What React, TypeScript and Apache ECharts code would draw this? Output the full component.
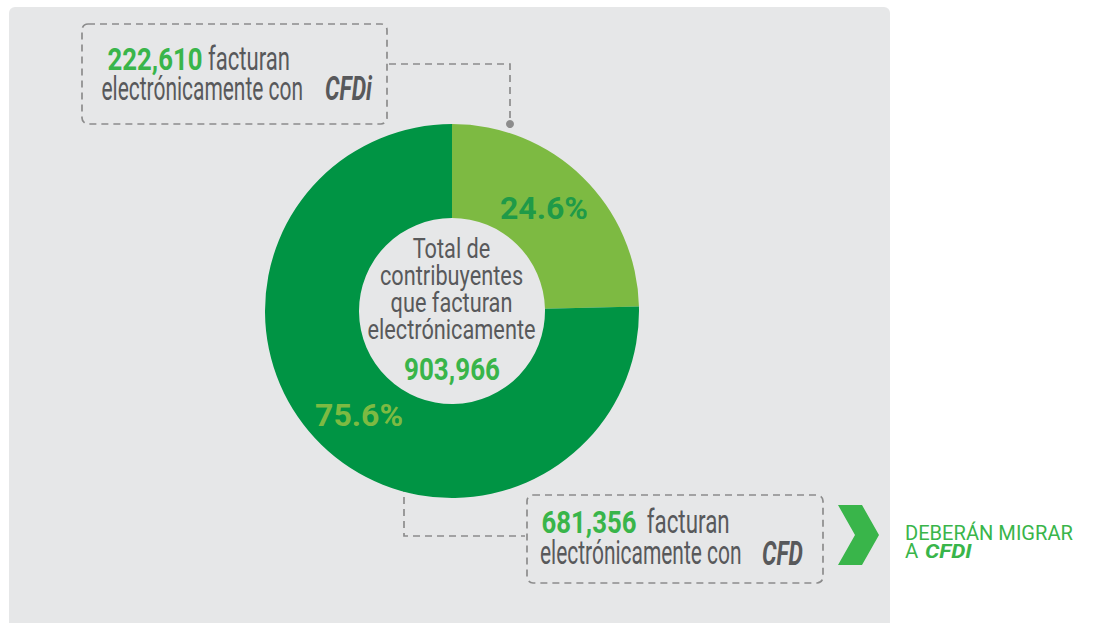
import React, { useEffect, useRef } from "react";
import * as echarts from "echarts";

const segmentNames = ["CFDi", "CFD"];
const segmentValues = [222610, 681356];
const segmentLabels = ["24.6%", "75.6%"];
const totalLabel = "903,966";
const centerLines = ["Total de", "contribuyentes", "que facturan", "electrónicamente"];
const topCount = "222,610";
const bottomCount = "681,356";

const segmentColors = ["#7dba42", "#009444"];
const labelColors = ["#1f9a48", "#7dba42"];
const labelOffsets = [[-8, -1], [7, 2]];

const FONT = "Roboto";
const GRAY = "#58595b";
const GREEN = "#39b54a";
const DASH = "#8c8c8c";

let measureCtx: CanvasRenderingContext2D | null = null;
function measure(text: string, size: number, weight: string, style: string) {
  if (!measureCtx) measureCtx = document.createElement("canvas").getContext("2d");
  if (!measureCtx) return 1;
  measureCtx.font = `${style} ${weight} ${size}px ${FONT}`;
  return measureCtx.measureText(text).width || 1;
}

function txt(
  text: string,
  x: number,
  baseline: number,
  size: number,
  color: string,
  width: number | null,
  opts: { weight?: string; style?: string; align?: string; scale?: number } = {}
) {
  const weight = opts.weight || "normal";
  const style = opts.style || "normal";
  const sx = opts.scale != null ? opts.scale : width ? width / measure(text, size, weight, style) : 1;
  return {
    type: "text",
    x,
    y: baseline - 0.342 * size,
    scaleX: sx,
    z: 20,
    style: {
      text,
      fontFamily: FONT,
      fontSize: size,
      fontWeight: weight,
      fontStyle: style,
      fill: color,
      align: opts.align || "left",
      verticalAlign: "middle",
    },
  };
}

export default function App() {
  const ref = useRef<HTMLDivElement>(null);
  useEffect(() => {
    if (!ref.current) return;
    const chart = echarts.init(ref.current, null, { renderer: "svg" });
    const dashStyle = { stroke: DASH, lineWidth: 1.7, lineDash: [7, 5], fill: "none" };
    const centerScale = 168 / measure(centerLines[3], 27, "normal", "normal");
    chart.setOption({
      animation: false,
      backgroundColor: "#ffffff",
      graphic: [
        { type: "rect", z: -10, shape: { x: 9, y: 7, width: 881, height: 640, r: 6 }, style: { fill: "#e6e7e8" } },
        // top callout
        { type: "rect", shape: { x: 82, y: 24, width: 305, height: 100, r: 6 }, style: dashStyle },
        { type: "polyline", shape: { points: [[389, 64], [510, 64], [510, 122]] }, style: { ...dashStyle } },
        { type: "circle", shape: { cx: 510, cy: 124, r: 4 }, style: { fill: DASH } },
        txt(topCount, 107.5, 70, 32, GREEN, 95, { weight: "bold" }),
        txt("facturan", 208, 70, 34, GRAY, 82),
        txt("electrónicamente con", 101.5, 100, 34, GRAY, 201.5),
        txt(segmentNames[0], 325, 100, 34, GRAY, 47, { weight: "bold", style: "italic" }),
        // bottom callout
        { type: "rect", shape: { x: 527, y: 495, width: 296, height: 88, r: 6 }, style: dashStyle },
        { type: "polyline", shape: { points: [[404, 473], [404, 536], [525, 536]] }, style: { ...dashStyle } },
        { type: "circle", shape: { cx: 404, cy: 471, r: 4 }, style: { fill: DASH } },
        txt(bottomCount, 541.5, 533.3, 31, GREEN, 95, { weight: "bold" }),
        txt("facturan", 646.7, 533.3, 34, GRAY, 83),
        txt("electrónicamente con", 540, 564.5, 34, GRAY, 201.5),
        txt(segmentNames[1], 762, 564.5, 34, GRAY, 41, { weight: "bold", style: "italic" }),
        // chevron + migrate note
        {
          type: "polygon",
          shape: { points: [[838, 505], [862, 505], [879, 535], [862, 565], [838, 565], [855, 535]] },
          style: { fill: GREEN },
        },
        txt("DEBERÁN MIGRAR", 905, 540, 21, GREEN, 168),
        txt("A", 905, 558.3, 21, GREEN, 13.3),
        txt(segmentNames[0].toUpperCase(), 925, 558.3, 21, GREEN, 46.7, { weight: "bold", style: "italic" }),
        // center text
        ...centerLines.map((line, i) =>
          txt(line, 451.5, 258 + i * 27, 27, GRAY, null, { align: "center", scale: centerScale })
        ),
        txt(totalLabel, 452, 380, 31, GREEN, 96, { weight: "bold", align: "center" }),
      ],
      series: [
        {
          type: "pie",
          center: [452, 311],
          radius: [93, 187],
          startAngle: 90,
          clockwise: true,
          silent: true,
          labelLine: { show: false },
          label: {
            show: true,
            position: "inside",
            fontFamily: FONT,
            fontSize: 32,
            fontWeight: "bold",
            formatter: (p: any) => segmentLabels[p.dataIndex],
          },
          data: segmentValues.map((v, i) => ({
            name: segmentNames[i],
            value: v,
            itemStyle: { color: segmentColors[i] },
            label: { color: labelColors[i], offset: labelOffsets[i] },
          })),
        },
      ],
    });
    return () => chart.dispose();
  }, []);
  return <div ref={ref} style={{ position: "fixed", left: 0, top: 0, width: 1095, height: 623 }} />;
}
